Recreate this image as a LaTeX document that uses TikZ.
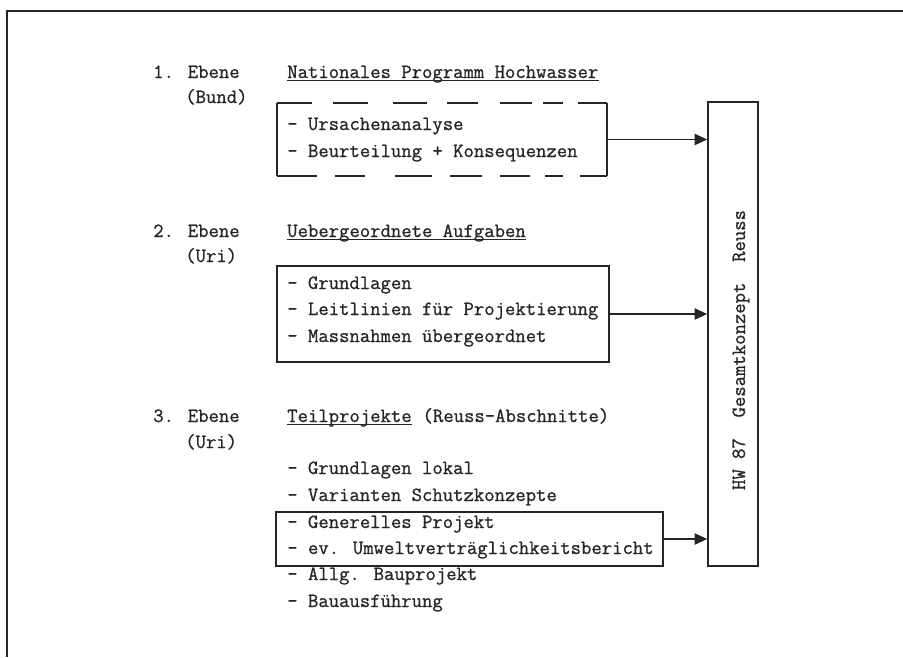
\documentclass[tikz,border=0pt]{standalone}
\usepackage{fontspec}
\usepackage{tikz}
\usetikzlibrary{arrows.meta}
\usetikzlibrary{fit}

\newfontfamily\schreib{Latin Modern Mono}[FakeBold=0.9]
\definecolor{ink}{HTML}{262626}
\tikzset{
  txt/.style={inner sep=0pt, anchor=base west, text=ink, font=\fontsize{15.1}{18}\selectfont\schreib},
  rahmen/.style={draw=ink, line width=1.2pt, inner sep=0pt},
  linie/.style={draw=ink, line width=1.2pt},
  unterstrich/.style={draw=ink, line width=0.8pt},
  pfeil/.style={draw=ink, line width=1.2pt, -{Triangle[length=9.5pt,width=8.5pt]}},
}

\begin{document}
\begin{tikzpicture}[x=0.75pt,y=0.75pt,yscale=-1,xscale=1]
\useasboundingbox (0,0) rectangle (903,657);

%Shape: outer frame (open to the right and bottom)
\draw [ink, line width=1.5pt] (7,657) -- (7,11) -- (903,11) ;

%Shape: Rectangle, overall concept
\node [rahmen, fit={(708,102) (758,566)}] (gesamt) {};
% Text Node
\node [txt, anchor=base, rotate=90] (gesamttext) at (745,350) {HW~87~~Gesamtkonzept~~Reuss};

%%% 1. Ebene
% Text Node
\node [txt] (ebene1) at (153,78) {1. Ebene};
% Text Node
\node [txt] (bund) at (185,103) {(Bund)};
% Text Node
\node [txt] (titel1) at (287,78) {Nationales Programm Hochwasser};
\path (titel1.base west) ++(0,2.5) coordinate (u1a) (titel1.base east) ++(0,2.5) coordinate (u1b) ;
\draw [unterstrich] (u1a) -- (u1b) ;

%Shape: dashed box
\node [inner sep=0pt, fit={(277,103) (607,176)}] (box1) {};
\draw [linie] (box1.north west) -- (box1.south west) ;
\draw [linie] (box1.north east) -- (box1.south east) ;
\foreach \a/\b in {277/312, 333/368, 393/427, 447/478, 500/532, 543/563, 578/607}
  \draw [linie] (\a,103) -- (\b,103) ;
\foreach \a/\b in {277/317, 335/365, 395/432, 450/482, 500/530, 545/563, 580/607}
  \draw [linie] (\a,176) -- (\b,176) ;
% Text Node
\node [txt] (ursachen) at (287,130) {- Ursachenanalyse};
% Text Node
\node [txt] (beurteilung) at (287,157) {- Beurteilung + Konsequenzen};

%%% 2. Ebene
% Text Node
\node [txt] (ebene2) at (153,237) {2. Ebene};
% Text Node
\node [txt] (uri2) at (185,262) {(Uri)};
% Text Node
\node [txt] (titel2) at (287,237) {Uebergeordnete Aufgaben};
\path (titel2.base west) ++(0,2.5) coordinate (u2a) (titel2.base east) ++(0,2.5) coordinate (u2b) ;
\draw [unterstrich] (u2a) -- (u2b) ;

%Shape: Rectangle
\node [rahmen, fit={(277,266) (609,362)}] (box2) {};
% Text Node
\node [txt] (grundlagen) at (287,289) {- Grundlagen};
% Text Node
\node [txt] (leitlinien) at (287,315) {- Leitlinien für Projektierung};
% Text Node
\node [txt] (massnahmen) at (287,342) {- Massnahmen übergeordnet};

%%% 3. Ebene
% Text Node
\node [txt] (ebene3) at (153,422) {3. Ebene};
% Text Node
\node [txt] (uri3) at (185,448) {(Uri)};
% Text Node
\node [txt] (titel3) at (287,422) {Teilprojekte};
\path (titel3.base west) ++(0,2.5) coordinate (u3a) (titel3.base east) ++(0,2.5) coordinate (u3b) ;
\draw [unterstrich] (u3a) -- (u3b) ;
% Text Node
\node [txt] (abschnitte) at (titel3.base east) {\ (Reuss-Abschnitte)};

%Shape: Rectangle
\node [rahmen, fit={(276,512) (663,566)}] (box3) {};
% Text Node
\node [txt] (lokal) at (287,474) {- Grundlagen lokal};
% Text Node
\node [txt] (varianten) at (287,501) {- Varianten Schutzkonzepte};
% Text Node
\node [txt] (generell) at (287,528) {- Generelles Projekt};
% Text Node
\node [txt] (uvb) at (287,554) {- ev. Umweltverträglichkeitsbericht};
% Text Node
\node [txt] (bauprojekt) at (287,580) {- Allg. Bauprojekt};
% Text Node
\node [txt] (ausfuehrung) at (287,607) {- Bauausführung};

%Straight Lines [arrows]
\draw [pfeil] (box1.east) -- (box1.east -| gesamt.west) ;
\draw [pfeil] (box2.east) -- (box2.east -| gesamt.west) ;
\draw [pfeil] (box3.east) -- (box3.east -| gesamt.west) ;

\end{tikzpicture}
\end{document}
